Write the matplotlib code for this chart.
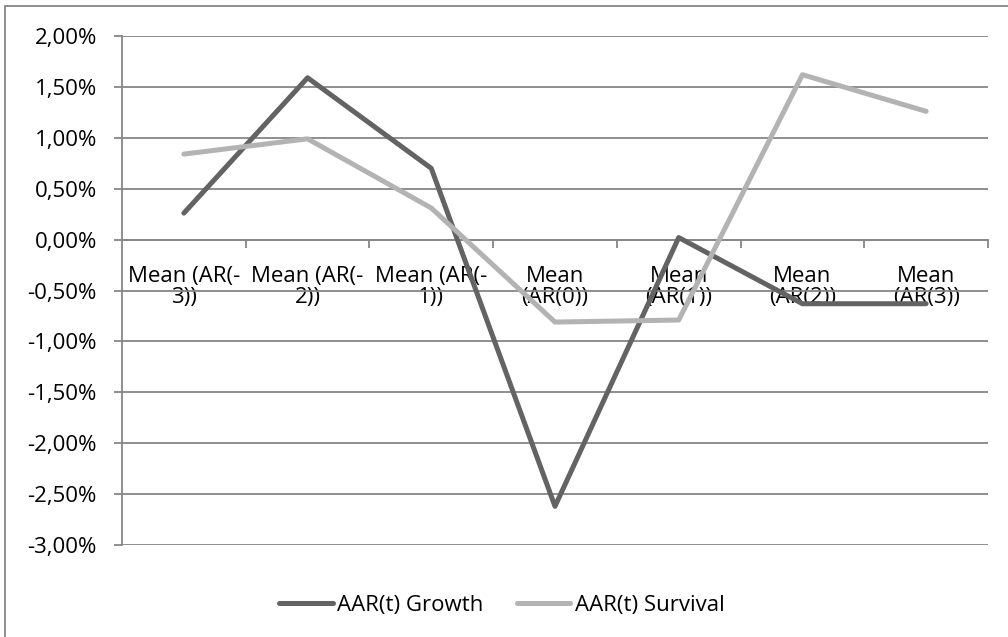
import matplotlib
matplotlib.use('Agg')
import matplotlib.pyplot as plt
from matplotlib.patches import Rectangle
from matplotlib.ticker import FuncFormatter, MultipleLocator, FixedLocator

# Average abnormal returns around the event day, in percent
categories = ['Mean (AR(-\n3))', 'Mean (AR(-\n2))', 'Mean (AR(-\n1))', 'Mean\n(AR(0))',
              'Mean\n(AR(1))', 'Mean\n(AR(2))', 'Mean\n(AR(3))']
aar_growth = [0.26, 1.59, 0.70, -2.62, 0.02, -0.63, -0.63]
aar_survival = [0.84, 0.99, 0.31, -0.81, -0.79, 1.62, 1.26]

plt.rcParams['font.family'] = ['Open Sans', 'DejaVu Sans']
plt.rcParams['font.size'] = 16

GRID = '#868686'

fig = plt.figure(figsize=(10.08, 6.37), dpi=100, facecolor='white')
ax = fig.add_axes([122 / 1008, 1 - 545 / 637, 866 / 1008, 509 / 637])

x = list(range(len(categories)))
ax.plot(x, aar_growth, color='#636363', linewidth=3.6, solid_capstyle='round',
        solid_joinstyle='round', label='AAR(t) Growth', zorder=3)
ax.plot(x, aar_survival, color='#b3b3b3', linewidth=3.6, solid_capstyle='round',
        solid_joinstyle='round', label='AAR(t) Survival', zorder=3)

ax.set_xlim(-0.5, len(categories) - 0.5)
ax.set_ylim(-3.0, 2.0)

# y axis: gridlines every 0.5 %
ax.yaxis.set_major_locator(MultipleLocator(0.5))
ax.yaxis.set_major_formatter(FuncFormatter(lambda v, p: f'{v:.2f}%'.replace('.', ',')))
ax.grid(axis='y', color=GRID, linewidth=1.3, zorder=0)
ax.tick_params(axis='y', length=6, width=1.3, color=GRID, pad=12, labelsize=16)

# x axis sits on the zero line, ticks between categories
ax.spines['bottom'].set_position(('data', 0))
ax.spines['bottom'].set_color(GRID)
ax.spines['bottom'].set_linewidth(1.3)
ax.spines['left'].set_color(GRID)
ax.spines['left'].set_linewidth(1.3)
ax.spines['top'].set_visible(False)
ax.spines['right'].set_visible(False)

ax.set_xticks(x)
ax.set_xticklabels(categories, linespacing=0.98)
ax.xaxis.set_minor_locator(FixedLocator([i + 0.5 for i in x]))
ax.tick_params(axis='x', which='major', length=0, pad=19, labelsize=16)
ax.tick_params(axis='x', which='minor', length=6, width=1.3, color=GRID)

fig.legend(loc='center', bbox_to_anchor=(0.498, 1 - 605 / 637), ncol=2, frameon=False,
           handlelength=2.4, handletextpad=0.2, columnspacing=1.5, fontsize=16)

# chart area border
fig.patches.append(Rectangle((5 / 1008, -0.1), 1.2, 1.1 - 6 / 637, transform=fig.transFigure,
                             fill=False, edgecolor=GRID, linewidth=1.3))

fig.savefig('out.png', dpi=100, facecolor='white')
